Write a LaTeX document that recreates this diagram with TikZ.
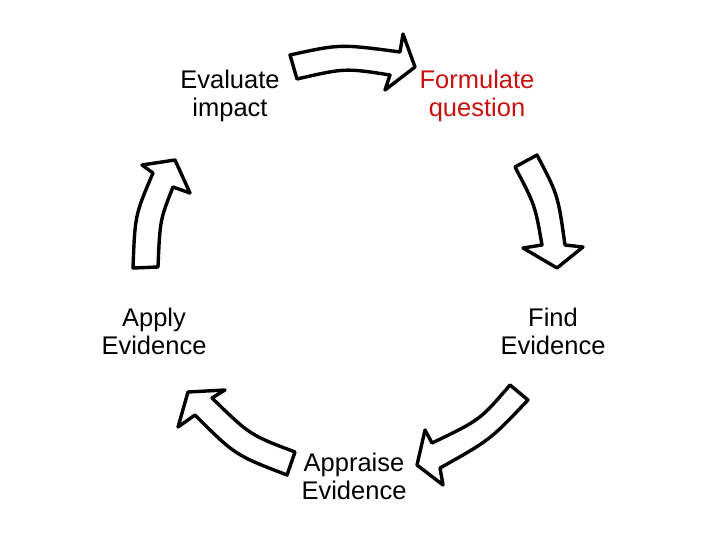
\documentclass[tikz,border=0pt]{standalone}
\usepackage{fontspec}
\setmainfont{Liberation Sans}
\definecolor{fred}{RGB}{200,16,16}
\begin{document}
\begin{tikzpicture}[x=1pt,y=-1pt,
  blk/.style={draw=black,fill=white,line width=3.4pt,line join=round},
  lbl/.style={align=center,font=\fontsize{25.5}{28}\selectfont,inner sep=0pt}]
\useasboundingbox (0,0) rectangle (720,540);
\node[lbl] (ev) at (230,96) {Evaluate\\impact};
\node[lbl,text=fred] (fq) at (477,96) {Formulate\\question};
\node[lbl] (fe) at (553,331) {Find\\Evidence};
\node[lbl] (ae) at (354,476) {Appraise\\Evidence};
\node[lbl] (ap) at (154,331) {Apply\\Evidence};
% top arrow
\draw[blk] (290,55) .. controls (340,44) .. (400,52) -- (403,34) -- (415,67) -- (385,90) -- (390,75) .. controls (345,68) .. (297,79) -- cycle;
% right arrow
\draw[blk] (515,167) -- (537,155) .. controls (558,195) .. (565,245) -- (583,247) -- (557,268) -- (523,248) -- (542,245) .. controls (535,205) .. (515,167) -- cycle;
% bottom right arrow
\draw[blk] (510,385) -- (528,400) .. controls (490,440) .. (440,468) -- (443,485) -- (417,465) -- (425,430) -- (432,443) .. controls (480,420) .. (510,385) -- cycle;
% bottom left arrow
\draw[blk] (295,452) -- (287,475) .. controls (235,455) .. (195,415) -- (178,427) -- (188,392) -- (225,390) -- (212,398) .. controls (250,435) .. (295,452) -- cycle;
% left arrow
\draw[blk] (133,268) -- (158,267) .. controls (160,220) .. (173,187) -- (190,193) -- (175,160) -- (142,165) -- (153,173) .. controls (135,215) .. (133,268) -- cycle;
\end{tikzpicture}
\end{document}
